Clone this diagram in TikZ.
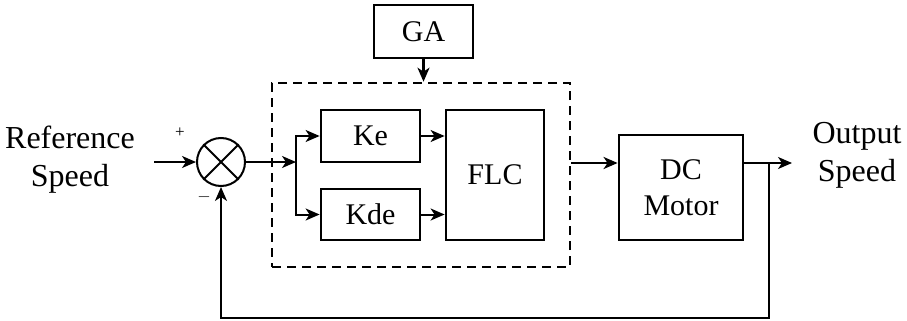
\documentclass[tikz,border=0pt]{standalone}
\usepackage{fontspec}
\setmainfont{Liberation Serif}
\usetikzlibrary{arrows.meta,calc}
\begin{document}
\begin{tikzpicture}[x=1pt,y=-1pt,
  blk/.style={draw,line width=2.8pt,inner sep=0pt,font=\fontsize{30}{34}\selectfont},
  lbl/.style={align=center,font=\fontsize{32}{38}\selectfont},
  sg/.style={font=\fontsize{17}{17}\selectfont},
  arr/.style={-{Stealth[length=14pt,width=12pt,inset=4pt]},line width=2pt},
  ln/.style={line width=2pt}]
\useasboundingbox (0,0) rectangle (907,321);
\node[blk,minimum width=99pt,minimum height=53pt] (ga) at (423.5,31.5) {GA};
\node[draw,dashed,line width=2.6pt,dash pattern=on 9pt off 6pt,minimum width=298pt,minimum height=184pt,inner sep=0pt] (dash) at (421,175) {};
\node[blk,minimum width=99pt,minimum height=52pt] (ke) at (370.5,136) {Ke};
\node[blk,minimum width=99pt,minimum height=51pt] (kde) at (370.5,214.5) {Kde};
\node[blk,minimum width=98pt,minimum height=130pt] (flc) at (495,175) {FLC};
\node[blk,minimum width=124pt,minimum height=105pt,align=center,font=\fontsize{30}{36}\selectfont] (dc) at (681,187.5) {DC\\Motor};
\node[draw,circle,line width=2pt,minimum size=48pt,inner sep=0pt] (sum) at (221,162) {};
\draw[line width=2pt] (sum.north west) -- (sum.south east) (sum.north east) -- (sum.south west);
\node[lbl] (ref) at (70,160) {Reference\\Speed};
\node[lbl] (out) at (857,155) {Output\\Speed};
\node[sg] (plus) at (180,133) {+};
\node[sg] (minus) at (204,197) {$-$};
\coordinate (inl) at (154,162);
\coordinate (br) at (296,162);
\coordinate (fb) at (769,163);
\coordinate (oend) at (792,163);
\draw[arr] (inl) -- (sum.west);
\draw[arr] (sum.east) -- (br);
\draw[arr] (br) |- (ke.west);
\draw[arr] (br) |- (kde.west);
\draw[arr] (ke.east) -- (ke.east -| flc.west);
\draw[arr] (kde.east) -- (kde.east -| flc.west);
\draw[arr,line width=2.8pt] (dash.east |- dc.west) ++(0,-24.5) coordinate (dout) -- (dc.west |- dout);
\draw[arr,line width=2.4pt] (ga.south) -- (dash.north -| ga.south);
\draw[arr] (dc.east |- fb) -- (oend);
\draw[arr] (fb) -- ++(0,155) -| (sum.south);
\end{tikzpicture}
\end{document}
